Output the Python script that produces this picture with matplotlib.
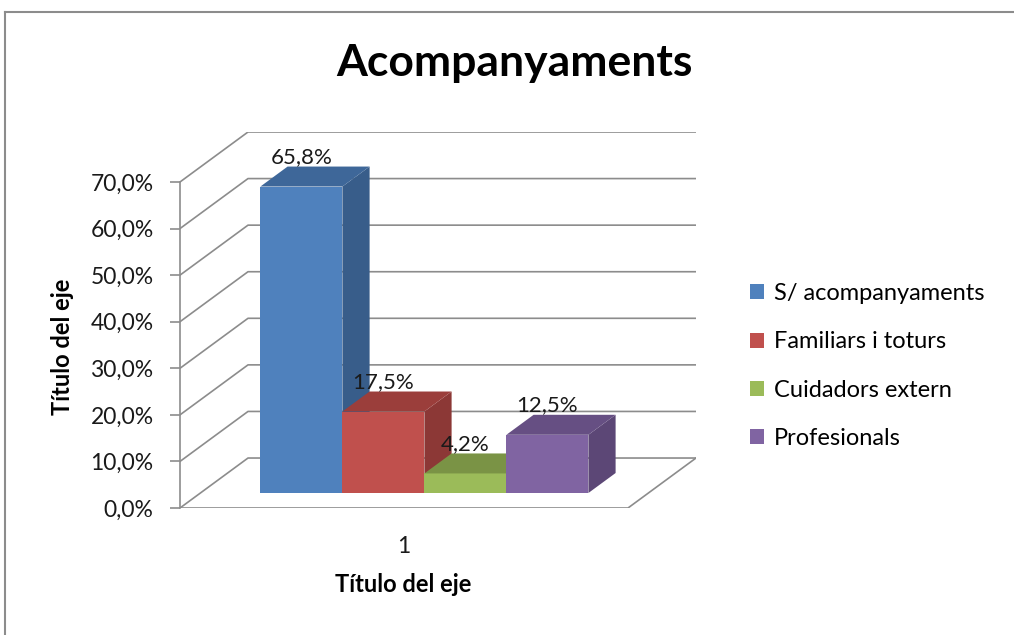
import matplotlib
matplotlib.use("Agg")
import matplotlib.pyplot as plt
from matplotlib.patches import Polygon, Patch
from matplotlib.lines import Line2D

plt.rcParams['font.family'] = ['Lato', 'DejaVu Sans']

# data
series = ["S/ acompanyaments", "Familiars i toturs", "Cuidadors extern", "Profesionals"]
values = [65.8, 17.5, 4.2, 12.5]
value_labels = ["65,8%", "17,5%", "4,2%", "12,5%"]
yticks = [0, 10, 20, 30, 40, 50, 60, 70]
ytick_labels = ["0,0%", "10,0%", "20,0%", "30,0%", "40,0%", "50,0%", "60,0%", "70,0%"]
category = "1"

front_col = ["#4F81BD", "#C0504D", "#9BBB59", "#8064A2"]
side_col = ["#385D8A", "#8C3836", "#71893F", "#5C4776"]
top_col = ["#3E6799", "#9B3E3B", "#7A9345", "#664F83"]

# fake 3D geometry (x: front plane 0..1, y: percent)
DX = 68 / 448      # depth offset, x units
DY = 50 / 4.66     # depth offset, percent units
d0, d1 = 0.3, 0.7  # bar depth range
w = 82 / 448
gap = (1 - len(values) * w) / 2
grid_c = "#8C8C8C"
txt_c = "#1a1a1a"

fig = plt.figure(figsize=(10.14, 6.35), dpi=100)
W, H = 1014, 635
ax = fig.add_axes([180 / W, (H - 508) / H, 516 / W, 376 / H])
ax.set_xlim(0, 1 + DX)
ax.set_ylim(0, 70 + DY)

# back wall grid + side wall diagonals
for t in yticks:
    ax.plot([0, DX, 1 + DX], [t, t + DY, t + DY], color=grid_c, lw=1.2, zorder=1)
# floor
ax.plot([0, 1, 1 + DX], [0, 0, DY], color=grid_c, lw=1.2, zorder=1)

# bars
for i, v in enumerate(values):
    x0 = gap + i * w
    x1 = x0 + w
    ax.bar(x0 + d0 * DX, v, width=w, bottom=d0 * DY, align='edge',
           color=front_col[i], lw=0, zorder=2 + i)
    side = [(x1 + d0 * DX, d0 * DY), (x1 + d1 * DX, d1 * DY),
            (x1 + d1 * DX, v + d1 * DY), (x1 + d0 * DX, v + d0 * DY)]
    ax.add_patch(Polygon(side, closed=True, fc=side_col[i], lw=0, zorder=2 + i))
    top = [(x0 + d0 * DX, v + d0 * DY), (x1 + d0 * DX, v + d0 * DY),
           (x1 + d1 * DX, v + d1 * DY), (x0 + d1 * DX, v + d1 * DY)]
    ax.add_patch(Polygon(top, closed=True, fc=top_col[i], lw=0, zorder=2 + i))
    ax.text(x0 + d0 * DX + w / 2, v + d1 * DY + 2.0, value_labels[i],
            ha='center', va='center', fontsize=16, color=txt_c, zorder=10)

for s in ["top", "right", "bottom"]:
    ax.spines[s].set_visible(False)
ax.spines["left"].set_bounds(0, 70)
ax.spines["left"].set_color(grid_c)
ax.spines["left"].set_linewidth(1.2)
ax.set_yticks(yticks, ytick_labels)
ax.tick_params(axis='y', length=7, width=1.2, color=grid_c, labelsize=16.5,
               labelcolor=txt_c, pad=12)
ax.set_xticks([0.5], [category])
ax.tick_params(axis='x', length=0, labelsize=16.5, pad=20, labelcolor=txt_c)

fig.text(514 / W, 1 - 63 / H, "Acompanyaments", ha='center', va='center',
         fontsize=32, fontweight='bold')
fig.text(63 / W, 1 - 347 / H, "Título del eje", ha='center', va='center',
         rotation=90, fontsize=17, fontweight='bold')
fig.text(403 / W, 1 - 585 / H, "Título del eje", ha='center', va='center',
         fontsize=17, fontweight='bold')

handles = [Patch(fc=c, ec='none') for c in front_col]
fig.legend(handles, series, loc='center left', bbox_to_anchor=(750 / W, 1 - 366 / H),
           frameon=False, fontsize=17, handlelength=0.6, handleheight=0.6,
           handletextpad=0.4, labelspacing=1.15, borderpad=0, borderaxespad=0)

# outer chart border (left and top)
fig.add_artist(Line2D([5 / W, 5 / W], [0, 1 - 12 / H], transform=fig.transFigure,
                      color="#8C8C8C", lw=1.5))
fig.add_artist(Line2D([5 / W, 1], [1 - 12 / H, 1 - 12 / H], transform=fig.transFigure,
                      color="#8C8C8C", lw=1.5))

fig.savefig("out.png", dpi=100)
